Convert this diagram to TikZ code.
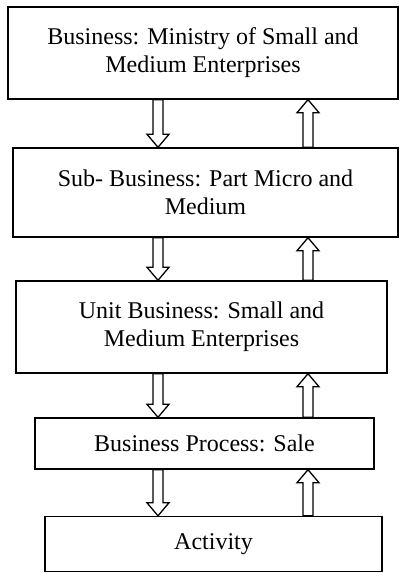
\documentclass[tikz,border=0pt]{standalone}
\usepackage{fontspec}
\setmainfont{Liberation Serif}
\usetikzlibrary{calc}

\tikzset{
  box/.style={draw, line width=1.4pt, align=center, inner sep=0pt,
    font=\fontsize{24}{28}\selectfont},
  flow/.style={draw, line width=1.3pt, line join=miter,
    to path={let \p1=(\tikztostart), \p2=(\tikztotarget),
      \p3=($(\tikztotarget)!13pt!(\tikztostart)$) in
      (\x1-5pt,\y1) -- (\x1-5pt,\y3) -- (\x1-11pt,\y3) -- (\x2,\y2)
      -- (\x1+11pt,\y3) -- (\x1+5pt,\y3) -- (\x1+5pt,\y1) -- cycle}}
}

\begin{document}
\begin{tikzpicture}[x=1pt,y=-1pt]
\useasboundingbox (0,0) rectangle (399,573);

% levels
\node[box, minimum width=390pt, minimum height=92pt] (b1) at (203,53)
  {Business: Ministry of Small and\\Medium Enterprises};
\node[box, minimum width=385pt, minimum height=89pt] (b2) at (205.5,192.5)
  {Sub- Business: Part Micro and\\Medium};
\node[box, minimum width=371pt, minimum height=92pt] (b3) at (201.5,327)
  {Unit Business: Small and\\Medium Enterprises};
\node[box, minimum width=339pt, minimum height=51pt] (b4) at (204.5,443.5)
  {Business Process: Sale};
\node[box, minimum width=337pt, minimum height=55pt] (b5) at (213.5,544)
  {Activity};

% arrow columns
\coordinate (dn) at (158,0);
\coordinate (up) at (308,0);

\draw[flow] (b1.south -| dn) to (b2.north -| dn);
\draw[flow] (b2.north -| up) to (b1.south -| up);
\draw[flow] (b2.south -| dn) to (b3.north -| dn);
\draw[flow] (b3.north -| up) to (b2.south -| up);
\draw[flow] (b3.south -| dn) to (b4.north -| dn);
\draw[flow] (b4.north -| up) to (b3.south -| up);
\draw[flow] (b4.south -| dn) to (b5.north -| dn);
\draw[flow] (b5.north -| up) to (b4.south -| up);
\end{tikzpicture}
\end{document}
